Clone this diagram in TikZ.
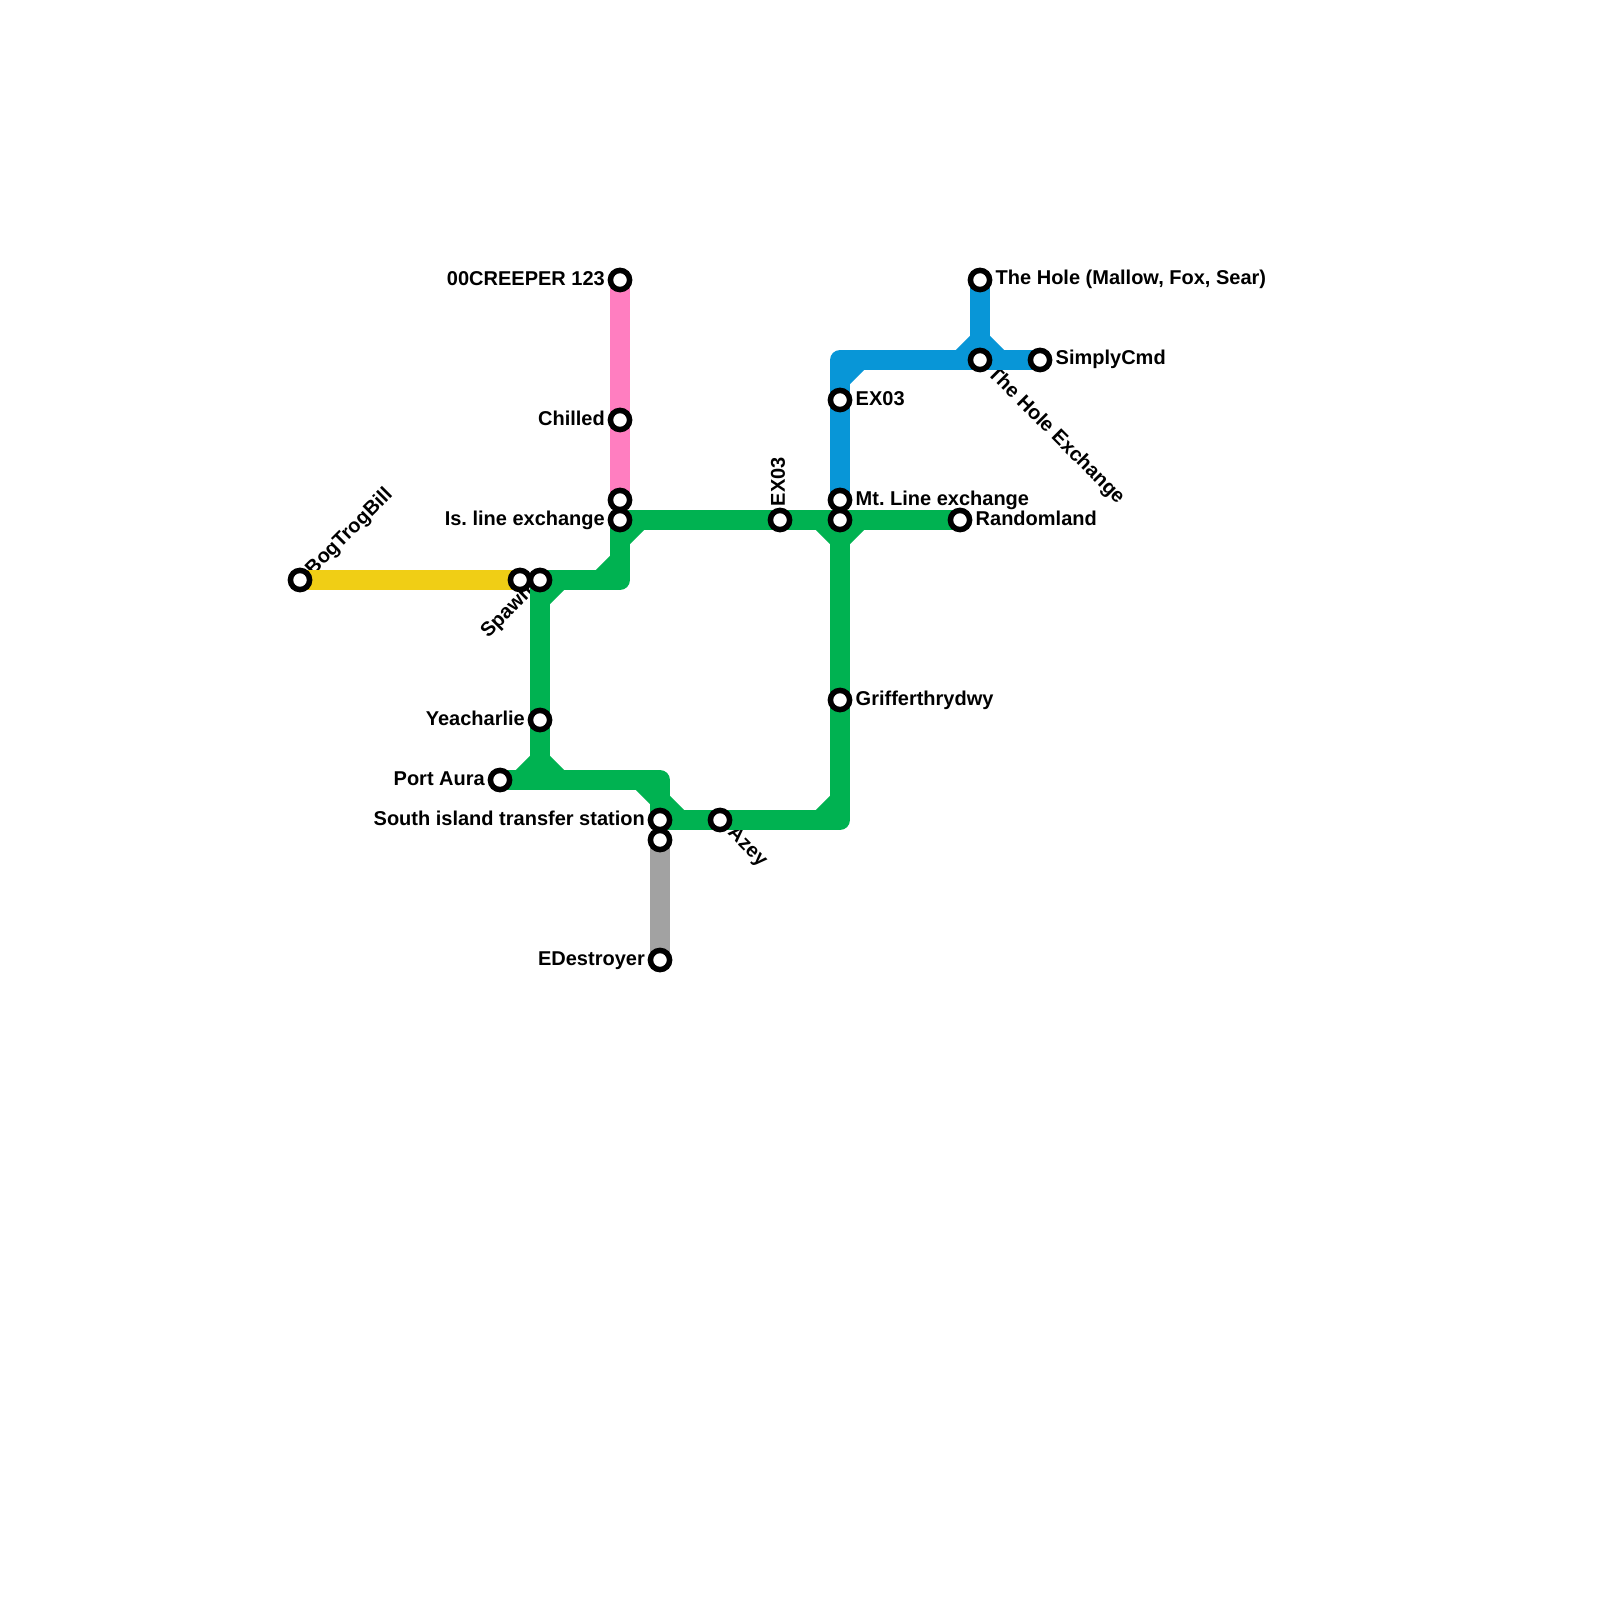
\documentclass[tikz,border=0pt]{standalone}
\usepackage{fontspec}
\setmainfont{Liberation Sans}
\usetikzlibrary{backgrounds}
\definecolor{pinkline}{HTML}{FF7EC0}
\definecolor{greenline}{HTML}{00B251}
\definecolor{blueline}{HTML}{0896D7}
\definecolor{yellowline}{HTML}{F0CE15}
\definecolor{greyline}{HTML}{A2A2A2}
\tikzset{
  stn/.style  ={circle, draw=black, line width=0.55mm, fill=white, inner sep=0pt,
                minimum size=1.92mm},
  trk/.style  ={line width=2mm, line join=round},
  lbl/.style  ={font=\fontsize{5.69}{6.8}\selectfont\bfseries\frenchspacing, text=black, inner sep=0pt},
  lr/.style   ={lbl, anchor=west},
  ll/.style   ={lbl, anchor=east},
}
% short cut across the inside of a bend
\newcommand{\cham}[5]{\draw[trk,#1] (#2,#3) -- (#4,#5);}

\begin{document}
\begin{tikzpicture}[x=1cm,y=-1cm]
  \useasboundingbox (0,0) rectangle (16,16);
  % stations
  \foreach \n/\x/\y in {ore/6.20/2.80, chilled/6.20/4.20, top/6.20/5.00, isl/6.20/5.20,
                        bog/3.00/5.80, spawn/5.20/5.80, junc/5.40/5.80, yea/5.40/7.20,
                        aura/5.00/7.80, south/6.60/8.20, low/6.60/8.40, edes/6.60/9.60,
                        azey/7.20/8.20, exa/7.80/5.20, exb/8.40/4.00, mtl/8.40/5.00,
                        mtg/8.40/5.20, rnd/9.60/5.20, grif/8.40/7.00, hole/9.80/2.80,
                        hx/9.80/3.60, cmd/10.40/3.60}
    \node[stn] (\n) at (\x,\y) {};
  \coordinate (bl) at (8.40,3.60);
  \coordinate (cs) at (6.20,5.80);
  \coordinate (ca) at (6.60,7.80);
  \coordinate (cg) at (8.40,8.20);

  \begin{scope}[on background layer]
    % labels sit under the tracks
    \node[ll] at (6.055,2.79) {00CREEPER 123};
    \node[ll] at (6.055,4.18) {Chilled};
    \node[ll] at (6.055,5.20) {Is. line exchange};
    \node[ll] at (5.255,7.18) {Yeacharlie};
    \node[ll] at (4.855,7.79) {Port Aura};
    \node[ll] at (6.455,8.18) {South island transfer station};
    \node[ll] at (6.455,9.61) {EDestroyer};
    \node[lr] at (8.55,3.99) {EX03};
    \node[lr] at (8.55,5.00) {Mt. Line exchange};
    \node[lr] at (9.75,5.18) {Randomland};
    \node[lr] at (8.55,7.00) {Grifferthrydwy};
    \node[lr] at (9.95,2.79) {The Hole (Mallow, Fox, Sear)};
    \node[lr] at (10.55,3.59) {SimplyCmd};
    \node[lbl,anchor=west,rotate=45] at (3.09,5.73) {BogTrogBill};
    \node[lbl,anchor=east,rotate=45] at (5.31,5.89) {Spawn};
    \node[lbl,anchor=west,rotate=-45] at (9.90,3.70) {The Hole Exchange};
    \node[lbl,anchor=west,rotate=-45] at (7.30,8.30) {Azey};
    \node[lbl,anchor=west,rotate=90] at (7.78,5.07) {EX03};

    \draw[trk,pinkline] (ore.center) -- (chilled.center) -- (top.center);
    \draw[trk,yellowline] (bog.center) -- (spawn.center);
    \draw[trk,greyline] (low.center) -- (edes.center);

    \draw[trk,blueline] (mtl.center) -- (exb.center) -- (bl) -- (hx.center) -- (cmd.center);
    \draw[trk,blueline] (hole.center) -- (hx.center);
    \cham{blueline}{8.60}{3.60}{8.40}{3.80}
    \cham{blueline}{9.80}{3.40}{9.60}{3.60}
    \cham{blueline}{9.80}{3.40}{10.00}{3.60}

    \draw[trk,greenline] (rnd.center) -- (mtg.center) -- (exa.center) -- (isl.center)
      -- (cs) -- (junc.center);
    \draw[trk,greenline] (junc.center) -- (yea.center) -- (5.40,7.80);
    \draw[trk,greenline] (aura.center) -- (ca) -- (south.center) -- (azey.center)
      -- (cg) -- (grif.center) -- (mtg.center);
    \cham{greenline}{6.40}{5.20}{6.20}{5.40}
    \cham{greenline}{6.20}{5.60}{6.00}{5.80}
    \cham{greenline}{5.60}{5.80}{5.40}{6.00}
    \cham{greenline}{5.40}{7.60}{5.20}{7.80}
    \cham{greenline}{5.40}{7.60}{5.60}{7.80}
    \cham{greenline}{6.40}{7.80}{6.60}{8.00}
    \cham{greenline}{6.60}{8.00}{6.80}{8.20}
    \cham{greenline}{8.40}{8.00}{8.20}{8.20}
    \cham{greenline}{8.20}{5.20}{8.40}{5.40}
    \cham{greenline}{8.60}{5.20}{8.40}{5.40}
  \end{scope}
\end{tikzpicture}
\end{document}
